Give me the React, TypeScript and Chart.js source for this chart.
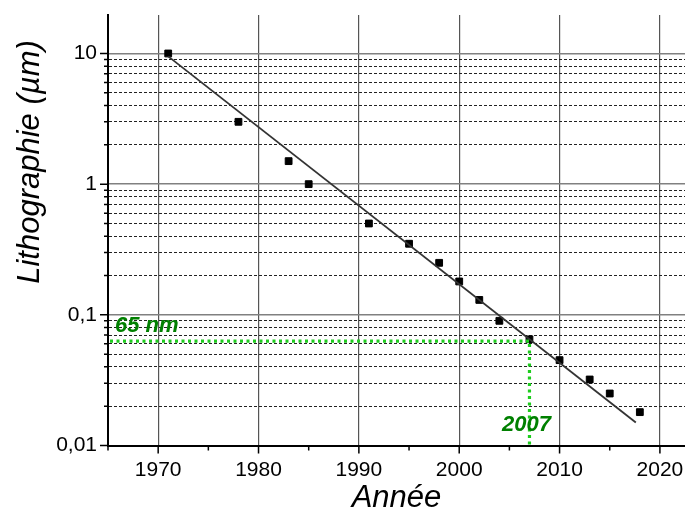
import { useEffect, useRef } from 'react';
import { Chart, registerables } from 'chart.js';

Chart.register(...registerables);

// ---- Data ----
const years = [1971, 1978, 1983, 1985, 1991, 1995, 1998, 2000, 2002, 2004, 2007, 2010, 2013, 2015, 2018];
const lithography = [10, 3, 1.5, 1, 0.5, 0.35, 0.25, 0.18, 0.13, 0.09, 0.065, 0.045, 0.032, 0.025, 0.018];
const fitYears = [1971, 2017.6];
const fitValues = [9.5, 0.015];
const yTickValues = [0.01, 0.1, 1, 10];
const yTickLabels = ['0,01', '0,1', '1', '10'];
const markerYear = 2007;
const markerValue = 0.063;
const markerYearLabel = '2007';
const markerValueLabel = '65 nm';
const xTitle = 'Année';
const yTitle = 'Lithographie (µm)';

const FONT = '"Liberation Sans", Arial, sans-serif';

const isPow10 = (v: number) => Math.abs(Math.log10(v) - Math.round(Math.log10(v))) < 1e-9;
const isIntSignificand = (v: number) => {
  const e = Math.floor(Math.log10(v) + 1e-9);
  const s = v / Math.pow(10, e);
  return Math.abs(s - Math.round(s)) < 1e-6;
};

const zeroPad = (s: any) => {
  s.paddingTop = 0;
  s.paddingBottom = 0;
  s.paddingLeft = 0;
  s.paddingRight = 0;
};

const overlay = {
  id: 'overlay',
  afterDatasetsDraw(chart: any) {
    const { ctx, chartArea, scales } = chart;
    const x = scales.x;
    const y = scales.y;
    const px = x.getPixelForValue(markerYear);
    const py = y.getPixelForValue(markerValue);
    ctx.save();
    ctx.strokeStyle = '#1ecc1e';
    ctx.lineWidth = 3.2;
    ctx.setLineDash([3, 3.5]);
    ctx.beginPath();
    ctx.moveTo(chartArea.left + 2, py);
    ctx.lineTo(px, py);
    ctx.lineTo(px, chartArea.bottom);
    ctx.stroke();
    ctx.setLineDash([]);
    ctx.fillStyle = '#008000';
    ctx.font = 'italic bold 22px ' + FONT;
    ctx.textBaseline = 'alphabetic';
    ctx.textAlign = 'left';
    ctx.fillText(markerValueLabel, chartArea.left + 7, py - 9);
    ctx.textAlign = 'center';
    ctx.fillText(markerYearLabel, px - 3, chartArea.bottom - 15);
    ctx.restore();
  },
  afterDraw(chart: any) {
    const { ctx, chartArea, scales } = chart;
    const x = scales.x;
    const y = scales.y;
    ctx.save();
    ctx.strokeStyle = '#000';
    ctx.lineWidth = 1.5;
    ctx.beginPath();
    for (const t of x.ticks) {
      const p = x.getPixelForValue(t.value);
      const len = t.value % 10 === 0 ? 8 : 5;
      ctx.moveTo(p, chartArea.bottom);
      ctx.lineTo(p, chartArea.bottom + len);
    }
    for (const t of y.ticks) {
      if (!isIntSignificand(t.value)) continue;
      const p = y.getPixelForValue(t.value);
      const len = isPow10(t.value) ? 8 : 4;
      ctx.moveTo(chartArea.left - len, p);
      ctx.lineTo(chartArea.left, p);
    }
    ctx.stroke();
    // axis titles
    ctx.fillStyle = '#000';
    ctx.font = 'italic 31px ' + FONT;
    ctx.textAlign = 'center';
    ctx.textBaseline = 'alphabetic';
    ctx.fillText(xTitle, (chartArea.left + chartArea.right) / 2, 507);
    ctx.translate(39, 162);
    ctx.rotate(-Math.PI / 2);
    ctx.fillText(yTitle, 0, 0);
    ctx.restore();
  },
};

export default function App() {
  const ref = useRef<HTMLCanvasElement | null>(null);
  useEffect(() => {
    if (!ref.current) return;
    const chart = new Chart(ref.current, {
      type: 'scatter',
      data: {
        datasets: [
          {
            type: 'line',
            label: 'fit',
            data: fitYears.map((yr, i) => ({ x: yr, y: fitValues[i] })),
            borderColor: '#333',
            borderWidth: 1.8,
            pointRadius: 0,
            fill: false,
          } as any,
          {
            type: 'scatter',
            label: 'Lithographie',
            data: years.map((yr, i) => ({ x: yr, y: lithography[i] })),
            backgroundColor: '#000',
            borderColor: '#000',
            borderWidth: 1,
            pointStyle: 'rect',
            pointRadius: 4.8,
          },
        ],
      },
      options: {
        animation: false,
        responsive: true,
        maintainAspectRatio: false,
        layout: { autoPadding: false, padding: { top: 15, right: 0, left: 0, bottom: 0 } },
        plugins: { legend: { display: false }, tooltip: { enabled: false }, title: { display: false } },
        scales: {
          x: {
            type: 'linear',
            min: 1965,
            max: 2022.5,
            bounds: 'data',
            afterFit: (s: any) => { s.height = 67.5; zeroPad(s); },
            ticks: {
              stepSize: 5,
              includeBounds: false,
              autoSkip: false,
              maxRotation: 0,
              padding: 12,
              color: '#000',
              font: { family: FONT, size: 21 },
              callback: (v: any) => (Number(v) % 10 === 0 ? String(v) : ''),
            },
            grid: {
              drawTicks: false,
              color: (c: any) => (c.tick && c.tick.value % 10 === 0 ? '#555' : 'rgba(0,0,0,0)'),
              lineWidth: 1.2,
            },
            border: { display: true, color: '#000', width: 2 },
          },
          y: {
            type: 'logarithmic',
            min: 0.01,
            max: 19.7,
            afterFit: (s: any) => { s.width = 108; zeroPad(s); },
            ticks: {
              autoSkip: false,
              padding: 11,
              color: '#000',
              font: { family: FONT, size: 21 },
              callback: (v: any) => {
                const idx = yTickValues.findIndex((t) => Math.abs(Math.log10(t) - Math.log10(Number(v))) < 1e-9);
                return idx >= 0 ? yTickLabels[idx] : '';
              },
            },
            grid: {
              drawTicks: false,
              color: (c: any) => {
                if (!c.tick) return 'rgba(0,0,0,0)';
                const v = c.tick.value;
                if (!isIntSignificand(v)) return 'rgba(0,0,0,0)';
                return isPow10(v) ? '#808080' : '#222';
              },
              lineWidth: (c: any) => (c.tick && isPow10(c.tick.value) ? 1.6 : 1),
            },
            border: {
              display: true,
              color: '#000',
              width: 2,
              dash: (c: any) => (c.tick && !isPow10(c.tick.value) ? [3, 2] : []),
            },
          },
        },
      },
      plugins: [overlay],
    });
    return () => chart.destroy();
  }, []);
  return (
    <div style={{ position: 'fixed', left: 0, top: 0, width: 685, height: 513, background: '#fff' }}>
      <canvas ref={ref} />
    </div>
  );
}
